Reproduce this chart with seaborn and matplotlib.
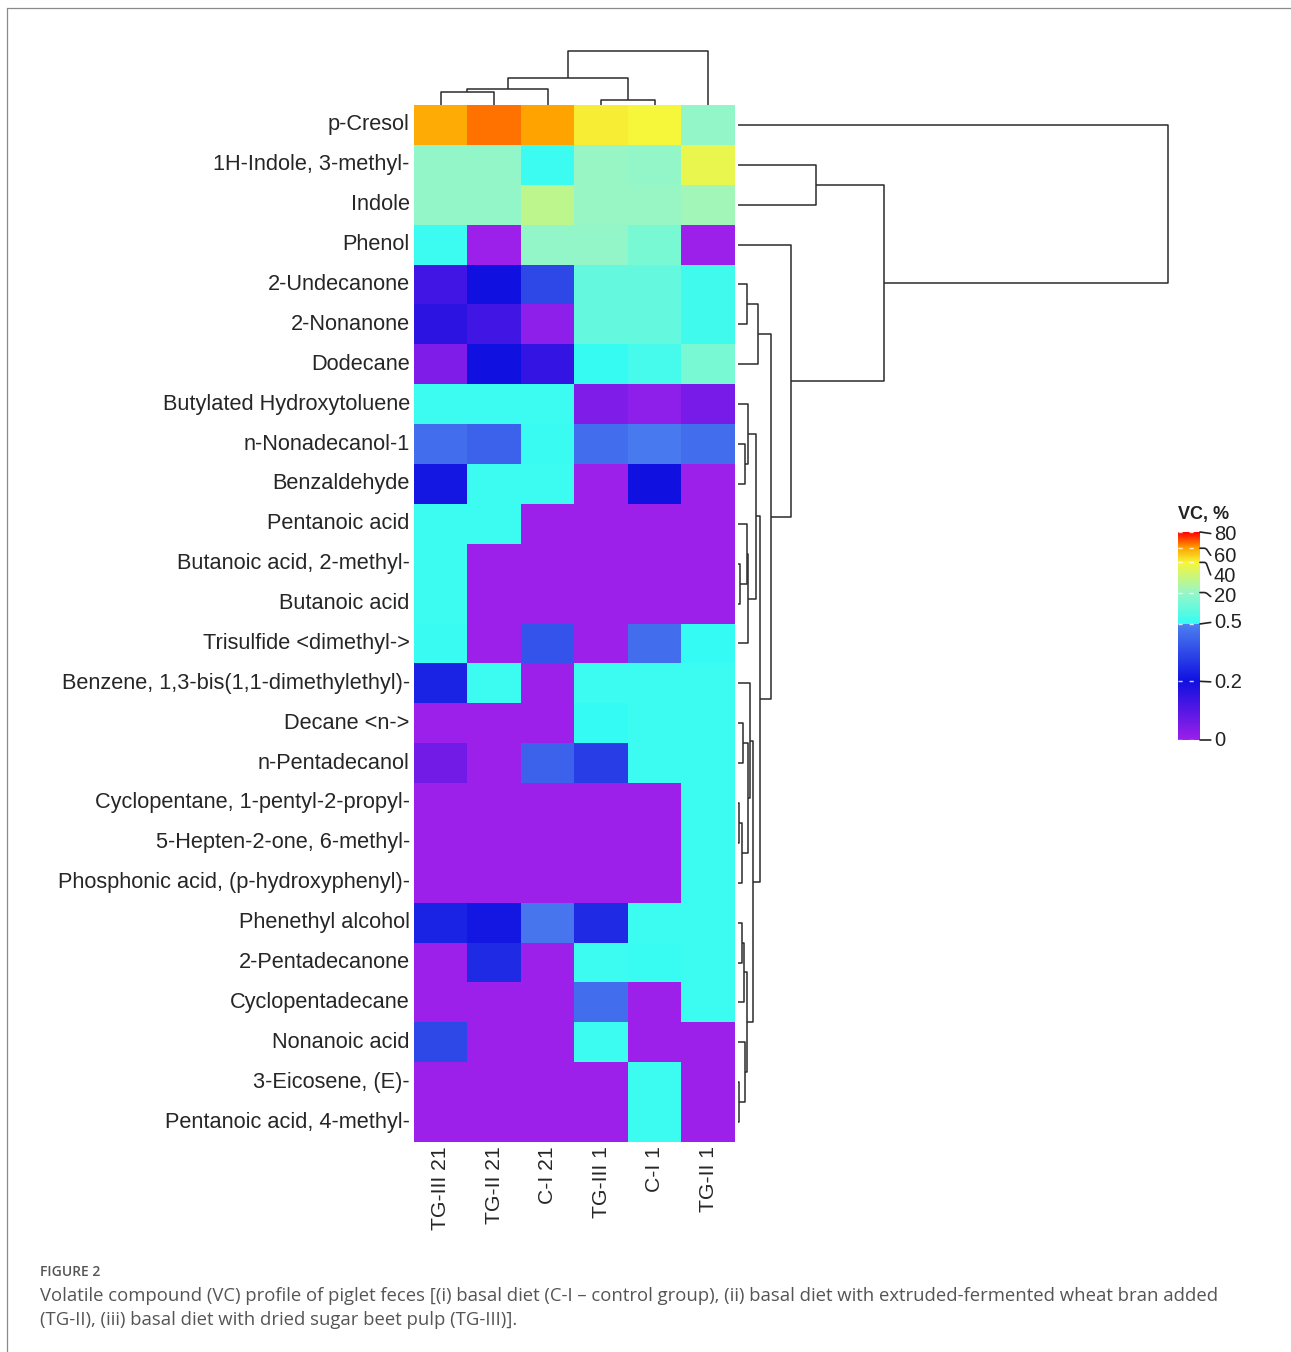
import numpy as np
import pandas as pd
import matplotlib
matplotlib.use("Agg")
import matplotlib.pyplot as plt
import seaborn as sns
from matplotlib.colors import LinearSegmentedColormap, FuncNorm
from matplotlib.lines import Line2D

# compounds (rows, top to bottom) and samples (columns)
compounds = [
    "p-Cresol", "1H-Indole, 3-methyl-", "Indole", "Phenol", "2-Undecanone",
    "2-Nonanone", "Dodecane", "Butylated Hydroxytoluene", "n-Nonadecanol-1",
    "Benzaldehyde", "Pentanoic acid", "Butanoic acid, 2-methyl-", "Butanoic acid",
    "Trisulfide <dimethyl->", "Benzene, 1,3-bis(1,1-dimethylethyl)-", "Decane <n->",
    "n-Pentadecanol", "Cyclopentane, 1-pentyl-2-propyl-", "5-Hepten-2-one, 6-methyl-",
    "Phosphonic acid, (p-hydroxyphenyl)-", "Phenethyl alcohol", "2-Pentadecanone",
    "Cyclopentadecane", "Nonanoic acid", "3-Eicosene, (E)-", "Pentanoic acid, 4-methyl-",
]
samples = ["TG-III 21", "TG-II 21", "C-I 21", "TG-III 1", "C-I 1", "TG-II 1"]

# VC, % (estimated from the colour scale)
vc_values = [
    [58, 66, 60, 42, 40, 19],
    [19, 19, 2, 20, 19, 37],
    [19, 19, 28, 20, 20, 22],
    [2, 0, 19, 19, 14, 0],
    [0.13, 0.2, 0.35, 10, 10, 3],
    [0.16, 0.13, 0.02, 10, 10, 3],
    [0.04, 0.2, 0.15, 1, 4, 14],
    [2, 2, 2, 0.04, 0.02, 0.05],
    [0.45, 0.42, 1.5, 0.45, 0.48, 0.45],
    [0.22, 2, 2, 0, 0.2, 0],
    [2, 2, 0, 0, 0, 0],
    [2, 0, 0, 0, 0, 0],
    [2, 0, 0, 0, 0, 0],
    [1.5, 0, 0.38, 0, 0.45, 0.6],
    [0.25, 2, 0, 2, 2, 2],
    [0, 0, 0, 0.6, 2, 2],
    [0.06, 0, 0.42, 0.32, 2, 2],
    [0, 0, 0, 0, 0, 2],
    [0, 0, 0, 0, 0, 2],
    [0, 0, 0, 0, 0, 2],
    [0.25, 0.22, 0.47, 0.27, 2, 2],
    [0, 0.27, 0, 2, 1.2, 2],
    [0, 0, 0, 0.45, 0, 2],
    [0.35, 0, 0, 2, 0, 0],
    [0, 0, 0, 0, 2, 0],
    [0, 0, 0, 0, 2, 0],
]

# dendrogram merges: (left node, right node, height); nodes >= n are earlier merges
row_merges = [
    (4, 5, 9), (26, 6, 20), (8, 9, 7), (7, 28, 10), (11, 12, 1.5),
    (10, 30, 8.5), (31, 13, 10), (29, 32, 18), (15, 16, 5), (17, 18, 1),
    (35, 19, 4), (34, 36, 10), (14, 37, 11.5), (20, 21, 4), (39, 22, 6),
    (24, 25, 1), (23, 41, 7), (40, 42, 9), (38, 43, 15), (33, 44, 22),
    (27, 45, 32.5), (3, 46, 52.5), (1, 2, 78), (48, 47, 146), (0, 49, 430),
]
col_merges = [(0, 1, 13), (6, 2, 16), (3, 4, 5), (7, 8, 27), (9, 5, 54)]

cbar_ticks = [0, 0.2, 0.5, 20, 40, 60, 80]
cbar_labels = ["0", "0.2", "0.5", "20", "40", "60", "80"]

# colour scale (non-linear breaks)
scale_values = [0, 0.2, 0.5, 0.5001, 20, 40, 60, 80]
scale_pos = [0, 0.282, 0.558, 0.5585, 0.709, 0.854, 0.922, 1.0]
scale_colors = ["#9c1fea", "#1010e0", "#4c80f0", "#34fbf4", "#98f6c6",
                "#f6f63a", "#ffa500", "#ff0000"]

cmap = LinearSegmentedColormap.from_list("vc", list(zip(scale_pos, scale_colors)), N=1024)


def fwd(x):
    return np.interp(x, scale_values, scale_pos)


def inv(p):
    return np.interp(p, scale_pos, scale_values)


norm = FuncNorm((fwd, inv), vmin=0, vmax=80)

sns.set_style("white")
plt.rcParams["font.family"] = ["Liberation Sans", "DejaVu Sans"]

W, H = 1291, 1352
fig = plt.figure(figsize=(W / 100, H / 100), dpi=100)


def px_axes(x0, y0, x1, y1):
    return fig.add_axes([x0 / W, 1 - y1 / H, (x1 - x0) / W, (y1 - y0) / H])


ax = px_axes(414, 105, 735, 1142)
ax_col = px_axes(414, 50, 735, 105)
ax_row = px_axes(738, 105, 1168, 1142)
cax = px_axes(1178, 532, 1200, 740)

df = pd.DataFrame(vc_values, index=compounds, columns=samples)
sns.heatmap(df, ax=ax, cmap=cmap, norm=norm, cbar_ax=cax,
            xticklabels=True, yticklabels=True, cbar_kws={"ticks": cbar_ticks})
ax.set_xlabel("")
ax.set_ylabel("")
ax.tick_params(length=0, pad=3)
ax.tick_params(axis="y", labelsize=15.7)
ax.tick_params(axis="x", labelsize=15.2)
plt.setp(ax.get_yticklabels(), rotation=0)
plt.setp(ax.get_xticklabels(), rotation=90)


def draw_dendrogram(dax, merges, n, orient):
    pos = {i: i + 0.5 for i in range(n)}
    hgt = {i: 0.0 for i in range(n)}
    for k, (a, b, h) in enumerate(merges):
        pa, pb, ha, hb = pos[a], pos[b], hgt[a], hgt[b]
        if orient == "top":
            xs, ys = [pa, pa, pb, pb], [ha, h, h, hb]
        else:
            xs, ys = [ha, h, h, hb], [pa, pa, pb, pb]
        dax.plot(xs, ys, color="#2b2b2b", lw=1.1, clip_on=False, solid_capstyle="butt")
        pos[n + k] = (pa + pb) / 2
        hgt[n + k] = h
    dax.set_axis_off()


draw_dendrogram(ax_col, col_merges, len(samples), "top")
ax_col.set_xlim(0, len(samples))
ax_col.set_ylim(0, 55)

draw_dendrogram(ax_row, row_merges, len(compounds), "right")
ax_row.set_ylim(len(compounds), 0)
ax_row.set_xlim(0, 430)

# colour key
cb = ax.collections[0].colorbar
cb.outline.set_visible(False)
cax.tick_params(length=0)
cax.set_yticklabels([])
cax.hlines(cbar_ticks, 0, 1, transform=cax.get_yaxis_transform(),
           colors="white", lw=1, linestyles=(0, (3, 5)), alpha=0.8)
label_y = [740, 682, 622, 597, 576, 556, 534]
for v, lab, ly in zip(cbar_ticks, cbar_labels, label_y):
    tick_px = 740 - fwd(v) * 208
    if abs(tick_px - ly) > 4:
        cs = "arc,angleA=180,angleB=0,armA=3,armB=6,rad=2"
    else:
        cs = "arc3"
    cax.annotate(lab, xy=(1, v), xycoords=cax.get_yaxis_transform(),
                 xytext=(1214, H - ly), textcoords="figure pixels",
                 ha="left", va="center", fontsize=14.5, color="#222",
                 arrowprops=dict(arrowstyle="-", lw=1.2, color="#222",
                                 shrinkA=0, shrinkB=0, relpos=(0, 0.5),
                                 connectionstyle=cs))
fig.text(1178 / W, 1 - 515 / H, "VC, %", fontsize=13, fontweight="bold",
         ha="left", va="center", color="#222")

# caption and frame
fig.text(40 / W, 1 - 1272 / H, "FIGURE 2", fontsize=10, fontweight="semibold",
         family="Open Sans", color="#555555", ha="left", va="center")
fig.text(40 / W, 1 - 1296 / H,
         "Volatile compound (VC) profile of piglet feces [(i) basal diet (C-I \u2013 control group), "
         "(ii) basal diet with extruded-fermented wheat bran added",
         fontsize=13.3, family="Open Sans", color="#555555", ha="left", va="center")
fig.text(40 / W, 1 - 1320 / H,
         "(TG-II), (iii) basal diet with dried sugar beet pulp (TG-III)].",
         fontsize=13.3, family="Open Sans", color="#555555", ha="left", va="center")
fig.add_artist(Line2D([7 / W, 7 / W], [0, 1 - 8 / H], color="#8a8a8a", lw=0.9))
fig.add_artist(Line2D([7 / W, 1], [1 - 8 / H, 1 - 8 / H], color="#8a8a8a", lw=0.9))

fig.savefig("out.png", dpi=100)
